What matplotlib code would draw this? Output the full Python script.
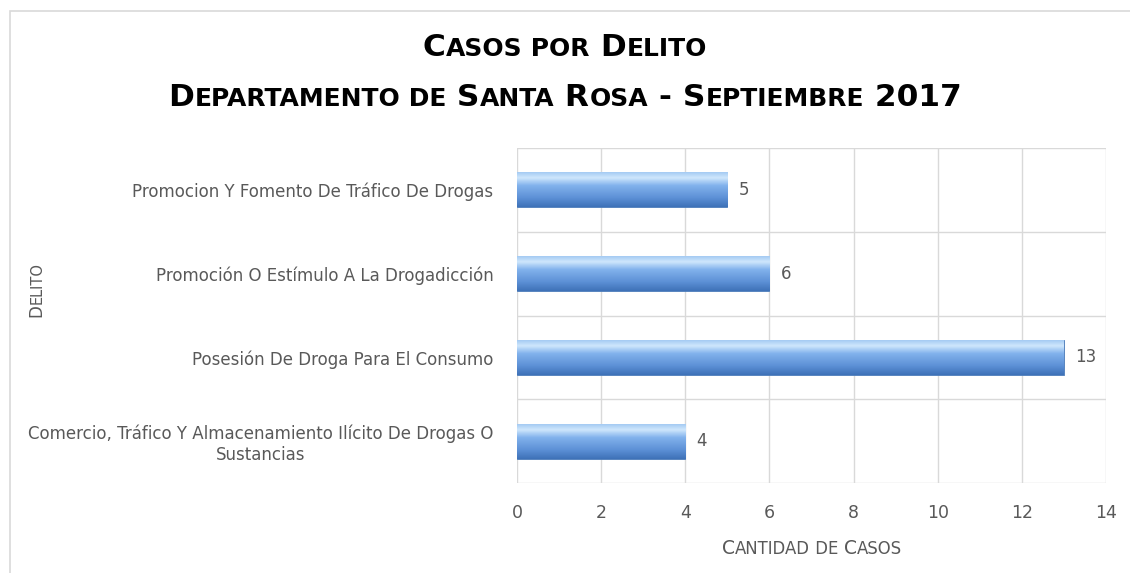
import matplotlib

matplotlib.use("Agg")
import matplotlib.pyplot as plt
import numpy as np
from matplotlib.colors import LinearSegmentedColormap
from matplotlib.offsetbox import AnnotationBbox, HPacker, TextArea
from matplotlib.patches import Rectangle

categories = [
    "Comercio, Tráfico Y Almacenamiento Ilícito De Drogas O\nSustancias",
    "Posesión De Droga Para El Consumo",
    "Promoción O Estímulo A La Drogadicción",
    "Promocion Y Fomento De Tráfico De Drogas",
]
cases = [4, 13, 6, 5]
x_ticks = [0, 2, 4, 6, 8, 10, 12, 14]

title_lines = ["Casos por Delito", "Departamento de Santa Rosa - Septiembre 2017"]
x_title = "Cantidad de Casos"
y_title = "Delito"

GRAY = "#595959"
GRID = "#D9D9D9"


def small_caps(text: str, size: float, ratio: float = 0.8, **props):
    # split into runs of capitals / lowercase, spaces stick to the next run
    runs = []
    for i, ch in enumerate(text):
        if ch == " ":
            nxt = text[i + 1 :].lstrip(" ")
            big = not (nxt[:1].islower())
        else:
            big = not ch.islower()
        if runs and runs[-1][1] == big and not (ch == " " and runs[-1][0][-1:] != " "):
            runs[-1][0] += ch
        else:
            runs.append([ch, big])
    boxes = [
        TextArea(s.upper(), textprops=dict(fontsize=size if big else size * ratio, **props))
        for s, big in runs
    ]
    return HPacker(children=boxes, align="baseline", pad=0, sep=0)


fig = plt.figure(figsize=(11.3, 5.73), dpi=100)
ax = fig.add_axes([517 / 1130, 1 - 483 / 573, 589 / 1130, 335 / 573])

# chart border
fig.patches.append(
    Rectangle((10 / 1130, -0.1), 1.2, 1 - 11 / 573 + 0.1, transform=fig.transFigure,
              fill=False, edgecolor="#D9D9D9", linewidth=1.2)
)

ypos = np.arange(len(categories))
bars = ax.barh(ypos, cases, height=0.42, color="#6C9FE0", edgecolor="#4A7AB8",
               linewidth=0.6, zorder=3)

# fake the bevelled look with a vertical gradient
cmap = LinearSegmentedColormap.from_list(
    "bevel",
    [(0.0, "#3F72B8"), (0.25, "#5C90D6"), (0.6, "#82B2EC"), (0.82, "#CFE7FC"), (1.0, "#9EC6F2")],
)
grad = np.linspace(0, 1, 64).reshape(-1, 1)
for bar in bars:
    x0, y0 = bar.get_x(), bar.get_y()
    im = ax.imshow(grad, extent=[x0, x0 + bar.get_width(), y0, y0 + bar.get_height()],
                   origin="lower", aspect="auto", cmap=cmap, zorder=3.5)
    im.set_clip_path(bar)

for y, v in zip(ypos, cases):
    ax.annotate(str(v), (v, y), xytext=(8, 0), textcoords="offset points",
                va="center", ha="left", fontsize=12, color=GRAY)

ax.set_xlim(0, 14)
ax.set_ylim(-0.5, len(categories) - 0.5)
ax.set_xticks(x_ticks)
ax.set_yticks(ypos)
ax.set_yticklabels(categories, multialignment="center")
ax.set_yticks(np.arange(-0.5, len(categories)), minor=True)
ax.grid(True, which="major", axis="x", color=GRID, linewidth=1, zorder=0)
ax.grid(True, which="minor", axis="y", color=GRID, linewidth=1, zorder=0)
ax.tick_params(axis="both", which="both", length=0, colors=GRAY)
ax.tick_params(axis="x", labelsize=12.5, pad=15)
ax.tick_params(axis="y", labelsize=12, pad=17)
for s in ax.spines.values():
    s.set_visible(False)

# titles in small caps
for line, yf in zip(title_lines, [1 - 48 / 573, 1 - 98 / 573]):
    box = small_caps(line, 22.5, ratio=0.8, color="black", fontweight="bold")
    fig.add_artist(AnnotationBbox(box, (0.5, yf), xycoords="figure fraction",
                                  frameon=False, box_alignment=(0.5, 0.5), pad=0))

box = small_caps(x_title, 13.5, ratio=0.88, color=GRAY)
fig.add_artist(AnnotationBbox(box, (812 / 1130, 1 - 549 / 573), xycoords="figure fraction",
                              frameon=False, box_alignment=(0.5, 0.5), pad=0))

# rotated y title: first letter bigger, rest chained above it
t1 = fig.text(36 / 1130, 1 - 317 / 573, y_title[0].upper(), rotation=90, fontsize=12,
              color=GRAY, ha="center", va="bottom")
ax.annotate(y_title[1:].upper(), xy=(1, 1), xycoords=t1, rotation=90, fontsize=10.5,
            color=GRAY, ha="right", va="bottom", annotation_clip=False)

fig.savefig("out.png", dpi=100)
